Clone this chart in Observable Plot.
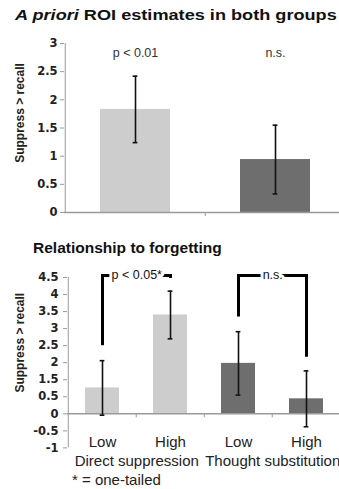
<!DOCTYPE html>
<html><head><meta charset="utf-8">
<script src="https://cdn.jsdelivr.net/npm/d3@7"></script>
<script src="https://cdn.jsdelivr.net/npm/@observablehq/plot@0.6"></script>
<style>
html,body{margin:0;padding:0;background:#fff;overflow:hidden;}
body{font-family:"Liberation Sans",Arial,Helvetica,sans-serif;color:#111;}
#root{position:relative;width:339px;height:489px;overflow:hidden;}
.title{position:absolute;font-weight:bold;white-space:nowrap;line-height:1;color:#111;transform-origin:0 50%;}
#t1{left:15px;top:7px;font-size:15.5px;transform:scaleX(1.17);}
#t2{left:33px;top:241px;font-size:14.5px;transform:scaleX(1.07);}
#foot{position:absolute;left:72px;top:472px;font-size:15px;line-height:1;white-space:nowrap;color:#222;}
#c1{position:absolute;left:0;top:30px;width:345px;}
#c2{position:absolute;left:0;top:262px;width:341px;}
</style></head>
<body><div id="root">
<div class="title" id="t1"><i>A priori</i> ROI estimates in both groups</div>
<div class="title" id="t2">Relationship to forgetting</div>
<div id="c1"></div>
<div id="c2"></div>
<div id="foot"></div>
</div>
<script>
// ---- data: top chart ----
const topGroups = ["Direct suppression", "Thought substitution"];
const topValues = [1.83, 0.94];
const topErrors = [0.59, 0.61];
const topNotes = ["p < 0.01", "n.s."];
const topTicks = [0, 0.5, 1, 1.5, 2, 2.5, 3];

// ---- data: bottom chart (tick labels as printed on the original axis) ----
const bottomGroups = ["Direct suppression", "Direct suppression", "Thought substitution", "Thought substitution"];
const bottomLevels = ["Low", "High", "Low", "High"];
const bottomValues = [0.76, 2.90, 1.48, 0.44];
const bottomErrors = [0.80, 0.70, 0.93, 0.82];
const bottomTickPositions = [-1, -0.5, 0, 0.5, 1, 1.5, 2, 2.5, 3, 3.5, 4];
const bottomTickLabels = ["-1", "-0.5", "0", "0.5", "1.5", "2", "2.5", "3", "3.5", "4", "4.5"];

// ---- significance brackets ----
const bracketLabels = ["p < 0.05*", "n.s."];
const bracketFrom = [0, 2];
const bracketTo = [1, 3];
const bracketTop = [4.06, 4.06];
const bracketFromEnd = [2.0, 2.84];
const bracketToEnd = [3.97, 1.66];

const groupColors = ["#cdcdcd", "#6e6e6e"];
const yLabel = "Suppress > recall";
const footnote = "* = one-tailed";

document.getElementById("foot").textContent = footnote;

const FONT = "'Liberation Sans', Arial, Helvetica, sans-serif";
const TICKFONT = "'DejaVu Sans', 'Liberation Sans', Arial, sans-serif";
const baseStyle = {fontFamily: FONT, fontSize: "11px", color: "#222", background: "white", maxWidth: "none", overflow: "visible"};
const groupList = Array.from(new Set(bottomGroups));
const colorOf = g => groupColors[groupList.indexOf(g)];

// ================= top chart =================
{
  const W = 345, ML = 64, H = 190, MT = 13, MB = 8;
  const step = (W - ML) / topGroups.length;
  const bw = step * 0.5;
  const yDom = [d3.min(topTicks), d3.max(topTicks)];
  const px = (H - MT - MB) / (yDom[1] - yDom[0]);
  const rows = topGroups.map((g, i) => ({group: g, value: topValues[i], err: topErrors[i], note: topNotes[i], color: colorOf(g)}));
  const capInset = (bw - 5) / 2;
  const chart = Plot.plot({
    width: W, height: H, marginLeft: ML, marginRight: 0, marginTop: MT, marginBottom: MB,
    style: baseStyle,
    x: {type: "band", domain: topGroups, paddingInner: 0.5, paddingOuter: 0.25, axis: null},
    y: {domain: yDom, axis: null},
    color: {type: "identity"},
    marks: [
      Plot.barY(rows, {x: "group", y: "value", fill: "color"}),
      Plot.ruleY([0], {stroke: "#9a9a9a", strokeWidth: 1.5}),
      Plot.ruleX([topGroups[0]], {x: d => d, y1: yDom[0], y2: yDom[1], dx: -step / 2, stroke: "#9a9a9a"}),
      Plot.ruleX(topGroups.slice(1), {x: d => d, y1: 0, y2: -4 / px, dx: -step / 2, stroke: "#9a9a9a"}),
      Plot.ruleX(rows, {x: "group", y1: d => d.value - d.err, y2: d => d.value + d.err, stroke: "#111", strokeWidth: 1.6}),
      Plot.tickY(rows, {x: "group", y: d => d.value + d.err, insetLeft: capInset, insetRight: capInset, stroke: "#111", strokeWidth: 1.6}),
      Plot.tickY(rows, {x: "group", y: d => d.value - d.err, insetLeft: capInset, insetRight: capInset, stroke: "#111", strokeWidth: 1.6}),
      Plot.axisY({ticks: topTicks, tickSize: 4, tickPadding: 3, tickFormat: d => String(d), fontFamily: TICKFONT, fontWeight: "bold", fontSize: 11.5, stroke: "#9a9a9a", fill: "#222", label: null}),
      Plot.text(rows, {x: "group", y: yDom[1], text: "note", dy: 9, fontSize: 12.5, fill: "#333"}),
      Plot.text([yLabel], {frameAnchor: "left", textAnchor: "middle", lineAnchor: "middle", rotate: -90, dx: 20 - ML, dy: -15, fontWeight: "bold", fontSize: 12, fill: "#222"})
    ]
  });
  document.getElementById("c1").appendChild(chart);
}

// ================= bottom chart =================
{
  const W = 341, ML = 67, H = 227, MT = 15, MB = 41.6;
  const keys = bottomGroups.map((g, i) => g + " · " + bottomLevels[i]);
  const step = (W - ML) / keys.length;
  const bw = step * 0.5;
  const yDom = [d3.min(bottomTickPositions), d3.max(bottomTickPositions)];
  const px = (H - MT - MB) / (yDom[1] - yDom[0]);
  const rows = keys.map((k, i) => ({key: k, group: bottomGroups[i], level: bottomLevels[i], value: bottomValues[i], err: bottomErrors[i], color: colorOf(bottomGroups[i])}));
  const groupRows = groupList.map(g => ({group: g, first: keys[bottomGroups.indexOf(g)]}));
  const brackets = bracketLabels.map((label, i) => ({label, from: keys[bracketFrom[i]], to: keys[bracketTo[i]], top: bracketTop[i], fromEnd: bracketFromEnd[i], toEnd: bracketToEnd[i]}));
  const capInset = (bw - 5) / 2;
  const chart = Plot.plot({
    width: W, height: H, marginLeft: ML, marginRight: 0, marginTop: MT, marginBottom: MB,
    style: baseStyle,
    x: {type: "band", domain: keys, paddingInner: 0.5, paddingOuter: 0.25, axis: null},
    y: {domain: yDom, axis: null},
    color: {type: "identity"},
    marks: [
      Plot.barY(rows, {x: "key", y: "value", fill: "color"}),
      Plot.ruleY([0], {stroke: "#9a9a9a", strokeWidth: 1.5}),
      Plot.ruleX([keys[0]], {x: d => d, y1: yDom[0], y2: yDom[1], dx: -step / 2, stroke: "#9a9a9a"}),
      Plot.ruleX(keys.slice(1), {x: d => d, y1: 0, y2: -4 / px, dx: -step / 2, stroke: "#9a9a9a"}),
      Plot.ruleX(rows, {x: "key", y1: d => d.value - d.err, y2: d => d.value + d.err, stroke: "#111", strokeWidth: 1.6}),
      Plot.tickY(rows, {x: "key", y: d => d.value + d.err, insetLeft: capInset, insetRight: capInset, stroke: "#111", strokeWidth: 1.6}),
      Plot.tickY(rows, {x: "key", y: d => d.value - d.err, insetLeft: capInset, insetRight: capInset, stroke: "#111", strokeWidth: 1.6}),
      Plot.axisY({ticks: bottomTickPositions, tickSize: 4, tickPadding: 5, tickFormat: d => bottomTickLabels[bottomTickPositions.indexOf(d)], fontFamily: TICKFONT, fontWeight: "bold", fontSize: 11.5, stroke: "#9a9a9a", fill: "#222", label: null}),
      // brackets
      Plot.ruleX(brackets, {x: "from", y1: "fromEnd", y2: "top", stroke: "#000", strokeWidth: 3}),
      Plot.ruleX(brackets, {x: "to", y1: "toEnd", y2: "top", stroke: "#000", strokeWidth: 3}),
      Plot.link(brackets, {x1: "from", x2: "to", y1: "top", y2: "top", stroke: "#000", strokeWidth: 3, strokeLinecap: "square"}),
      Plot.text(brackets, {x: "from", y: "top", dx: step / 2, text: "label", fontSize: 12.5, fill: "#111", stroke: "white", strokeWidth: 6}),
      // category labels
      Plot.text(rows, {x: "key", frameAnchor: "bottom", lineAnchor: "middle", text: "level", dy: -5.5, fontSize: 15, fill: "#222"}),
      Plot.text(groupRows, {x: "first", frameAnchor: "bottom", lineAnchor: "middle", text: "group", dx: step / 2, dy: 12.8, fontSize: 15, fill: "#222"}),
      Plot.text([yLabel], {frameAnchor: "left", textAnchor: "middle", lineAnchor: "middle", rotate: -90, dx: 20 - ML, dy: -20, fontWeight: "bold", fontSize: 12, fill: "#222"})
    ]
  });
  document.getElementById("c2").appendChild(chart);
}
</script>
</body></html>
